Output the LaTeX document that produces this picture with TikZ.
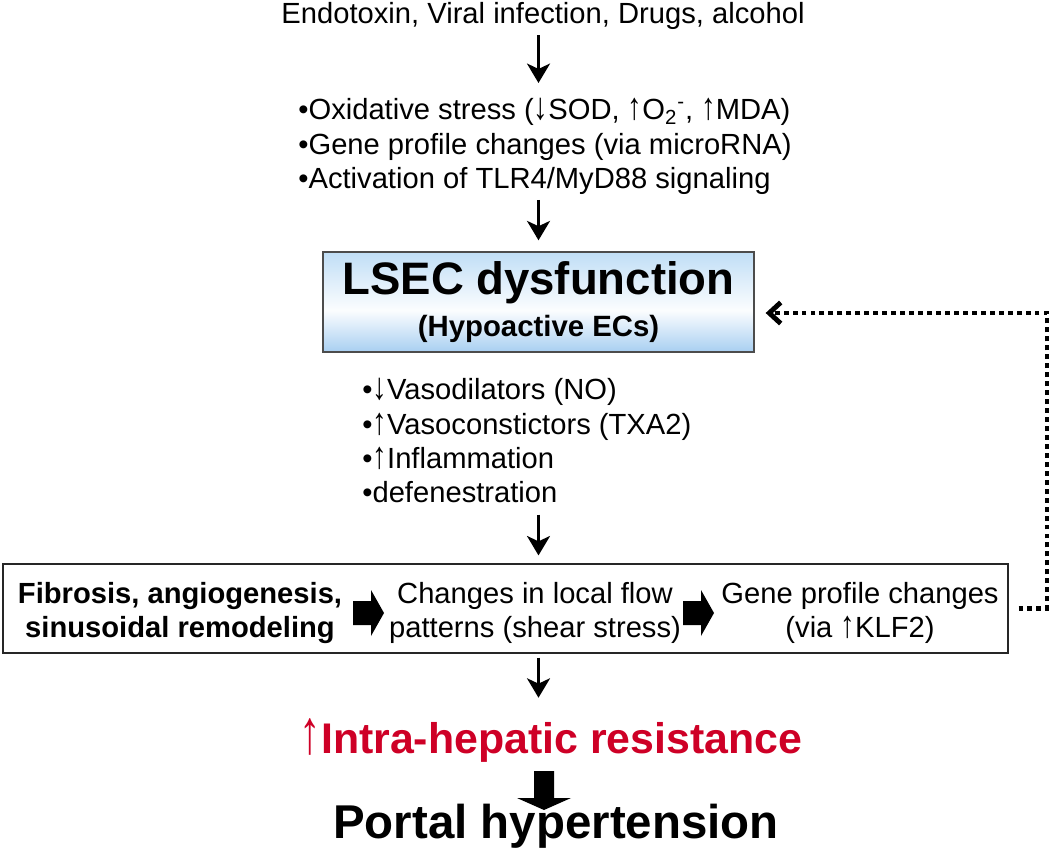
\documentclass[tikz,border=0pt]{standalone}
\usepackage{fontspec}
\usepackage{graphicx}
\setmainfont{Liberation Sans}
\usetikzlibrary{arrows.meta}

\definecolor{hepred}{RGB}{206,0,38}
\definecolor{lsectop}{RGB}{192,222,246}
\definecolor{lsecbot}{RGB}{168,207,241}
\pgfdeclareverticalshading{lsecshade}{100bp}{color(0bp)=(lsecbot); color(25bp)=(lsecbot);
	color(46bp)=(white!96!lsecbot); color(75bp)=(lsectop); color(100bp)=(lsectop)}

% thin tall arrows used inside the text
\newcommand{\upar}{\scalebox{1}[1.3]{↑}}
\newcommand{\dnar}{\scalebox{1}[1.3]{↓}}
% filled block arrow pointing right, #1 is the tip
\newcommand{\blockright}[1]{\fill (#1) ++(-31,-12) -- ++(18,0) -- ++(0,-11) -- ++(13,23) -- ++(-13,23) -- ++(0,-11) -- ++(-18,0) -- cycle;}

\begin{document}
\begin{tikzpicture}[x=0.02cm, y=-0.02cm]
	  \tikzstyle{txt}=[inner sep=0pt, font=\fontsize{16.6}{19.6}\selectfont]
	  \tikzstyle{bullets}=[txt, align=left]
	  \tikzstyle{boldtxt}=[txt, font=\fontsize{16.6}{19.6}\selectfont\bfseries]
	  \tikzstyle{lsecbox}=[rectangle, draw=black!70, line width=0.8pt, shading=lsecshade,
				  minimum width=8.62cm, minimum height=2cm, align=center]
	  \tikzstyle{flowbox}=[rectangle, draw=black!85, line width=0.7pt,
				  minimum width=20.1cm, minimum height=1.78cm]
	  \tikzstyle{down}=[-{Stealth[length=11pt,width=13pt,inset=3pt]}, line width=2.2pt]
	  \tikzstyle{feedback}=[-{Straight Barb[length=6.5pt,width=12pt]}, line width=2.8pt,
				  dash pattern=on 2.8pt off 2.3pt]

		\useasboundingbox (0,0) rectangle (1050,851);

		\node[txt, anchor=base] (agents) at (543,24) {Endotoxin, Viral infection, Drugs, alcohol};
		\node[bullets, anchor=north west] (injury) at (298,98)
			{•Oxidative stress (\dnar SOD, \upar O\textsubscript{2}\textsuperscript{-}, \upar MDA)\\
			 •Gene profile changes (via microRNA)\\
			 •Activation of TLR4/MyD88 signaling};

		\node[lsecbox] (lsec) at (538.5,302)
			{{\fontsize{25.9}{28}\selectfont\bfseries LSEC dysfunction}\\[5.5pt]
			 {\fontsize{16.7}{19}\selectfont\bfseries (Hypoactive ECs)}};

		\node[bullets, anchor=north west] (mediators) at (362,378)
			{•\dnar Vasodilators (NO)\\
			 •\upar Vasoconstictors (TXA2)\\
			 •\upar Inflammation\\
			 •defenestration};

		\node[flowbox] (flow) at (505.5,608.5) {};
		\node[boldtxt, align=center] (fibrosis) at (180,613) {Fibrosis, angiogenesis,\\sinusoidal remodeling};
		\node[txt, align=center] (flowchg) at (535,613) {Changes in local flow\\patterns (shear stress)};
		\node[txt, align=center] (genechg) at (860,613) {Gene profile changes\\(via \upar KLF2)};
		\coordinate (push1) at (384,613);
		\coordinate (push2) at (714,613);
		\blockright{push1}
		\blockright{push2}

		\node[txt, anchor=base, text=hepred, font=\fontsize{24.4}{28}\selectfont\bfseries] (resist) at (551,753)
			{{\mdseries\scalebox{1}[1.45]{↑}}Intra-hepatic resistance};
		\node[txt, anchor=base, font=\fontsize{27}{30}\selectfont\bfseries] (portal) at (556,838) {Portal hypertension};

		% connectors
		\draw[down, shorten <=0.1cm, shorten >=0.3cm] (agents.south -| lsec) -- (injury.north -| lsec);
		\draw[down, shorten <=0.1cm, shorten >=0.22cm] (injury.south -| lsec) -- (lsec.north);
		\draw[down, shorten <=0.22cm, shorten >=0.16cm] (mediators.south -| lsec) -- (flow.north -| lsec);
		\draw[down, shorten <=0.08cm, shorten >=0.4cm] (flow.south -| lsec) -- (resist.north -| lsec);

		\coordinate (tipdown) at (544,810);
		\fill (tipdown) -- ++(-27,-12) -- ++(17,0) -- ++(0,-27) -- ++(20,0) -- ++(0,27) -- ++(17,0) -- cycle;

		\coordinate (loopc) at (1047,313);
		\draw[feedback, shorten <=0.2cm, shorten >=0.22cm] (flow.east) -| (loopc) -- (lsec.east |- loopc);

		%\draw (flow.north) -- (lsec.south);
\end{tikzpicture}
\end{document}
